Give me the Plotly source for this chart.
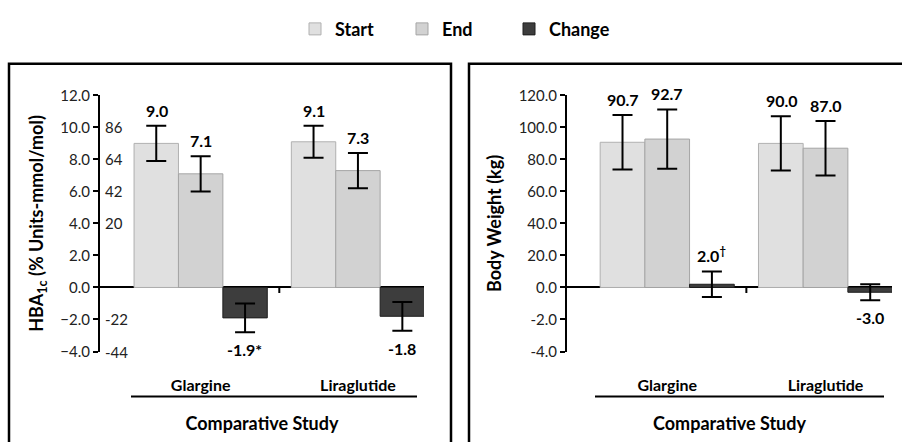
import plotly.graph_objects as go

# ---------------- data ----------------
categories = ["Glargine", "Liraglutide"]
series_names = ["Start", "End", "Change"]

hba_start = [9.0, 9.1]
hba_end = [7.1, 7.3]
hba_change = [-1.9, -1.8]
hba_start_err = [1.1, 1.0]
hba_end_err = [1.1, 1.1]
hba_change_err = [0.9, 0.9]
hba_labels_start = ["9.0", "9.1"]
hba_labels_end = ["7.1", "7.3"]
hba_labels_change = ["-1.9*", "-1.8"]

bw_start = [90.7, 90.0]
bw_end = [92.7, 87.0]
bw_change = [2.0, -3.0]
bw_start_err = [17.0, 17.0]
bw_end_err = [18.5, 17.0]
bw_change_err = [8.0, 5.0]
bw_labels_start = ["90.7", "90.0"]
bw_labels_end = ["92.7", "87.0"]
bw_labels_change = ["2.0<sup>†</sup>", "-3.0"]

hba_tick_vals = [-4, -2, 0, 2, 4, 6, 8, 10, 12]
mmol_tick_vals = [-4, -2, 4, 6, 8, 10]
mmol_tick_text = ["-44", "-22", "20", "42", "64", "86"]
bw_tick_vals = [-40, -20, 0, 20, 40, 60, 80, 100, 120]
bw_tick_text = ["-4.0", "-2.0", "0.0", "20.0", "40.0", "60.0", "80.0", "100.0", "120.0"]

# ---------------- style ----------------
FONT = "Lato"
colors = {"Start": "#e0e0e0", "End": "#d2d2d2", "Change": "#3d3d3d"}
edge = {"Start": "#b0b0b0", "End": "#a5a5a5", "Change": "#1e1e1e"}
W, H = 902, 442
TICK_SIZE = 15
LABEL_SIZE = 16
TITLE_SIZE = 18

def px_x(p):
    return p / W

def px_y(p):
    return 1 - p / H

fig = go.Figure()

panels = [
    dict(xa="x", ya="y", vals=[hba_start, hba_end, hba_change],
         errs=[hba_start_err, hba_end_err, hba_change_err],
         labels=[hba_labels_start, hba_labels_end, hba_labels_change], legend=True),
    dict(xa="x2", ya="y2", vals=[bw_start, bw_end, bw_change],
         errs=[bw_start_err, bw_end_err, bw_change_err],
         labels=[bw_labels_start, bw_labels_end, bw_labels_change], legend=False),
]

offsets = [-44, 0, 44]
annotations = []
for p in panels:
    for i, name in enumerate(series_names):
        fig.add_trace(go.Bar(
            x=categories, y=p["vals"][i], name=f"<b>{name}</b>",
            xaxis=p["xa"], yaxis=p["ya"],
            marker=dict(color=colors[name], line=dict(color=edge[name], width=1)),
            error_y=dict(type="data", array=p["errs"][i], color="black",
                         thickness=2, width=10),
            showlegend=p["legend"], legendgroup=name,
        ))
        for c, v, e, t in zip(categories, p["vals"][i], p["errs"][i], p["labels"][i]):
            pos = v >= 0
            annotations.append(dict(
                x=c, y=(v + e) if pos else (v - e), xref=p["xa"], yref=p["ya"],
                text=f"<b>{t}</b>", showarrow=False,
                xshift=offsets[i], yshift=4 if pos else -6,
                yanchor="bottom" if pos else "top",
                font=dict(family=FONT, size=LABEL_SIZE, color="black"),
            ))

# secondary (mmol/mol) labels just right of the HbA1c axis line
for v, t in zip(mmol_tick_vals, mmol_tick_text):
    annotations.append(dict(
        x=px_x(103), xref="paper", xanchor="left", y=v, yref="y", yanchor="middle",
        text=t, showarrow=False, font=dict(family=FONT, size=TICK_SIZE, color="#222"),
    ))

y_dom = [px_y(356), px_y(89)]

xcommon = dict(showline=False, ticks="", ticklabelstandoff=22, showgrid=False, zeroline=False,
               tickfont=dict(family=FONT, size=LABEL_SIZE, color="black"),
               tickvals=categories, ticktext=[f"<b>{c}</b>" for c in categories],
               title=dict(text="<b>Comparative Study</b>", standoff=24,
                          font=dict(family=FONT, size=TITLE_SIZE, color="black")))
ycommon = dict(showline=True, linecolor="black", linewidth=2,
               ticks="outside", ticklen=5, tickwidth=2, tickcolor="black",
               tickfont=dict(family=FONT, size=TICK_SIZE, color="#222"),
               showgrid=False, zeroline=True, zerolinecolor="black", zerolinewidth=2)

fig.update_layout(
    width=W, height=H,
    margin=dict(l=0, r=0, t=0, b=0),
    paper_bgcolor="white", plot_bgcolor="white",
    barmode="group", bargap=0.153, bargroupgap=0,
    font=dict(family=FONT, size=TICK_SIZE, color="#222"),
    legend=dict(orientation="h", x=0.505, xanchor="center", y=px_y(20), yanchor="middle",
                font=dict(family=FONT, size=18, color="black"), itemclick=False,
                traceorder="normal", itemwidth=30,
                entrywidth=62, entrywidthmode="pixels"),
    xaxis=dict(domain=[px_x(100), px_x(424)], range=[-0.64, 1.42], anchor="y", **xcommon),
    yaxis=dict(domain=y_dom, range=[-4, 12], anchor="x",
               tickvals=hba_tick_vals, tickformat=".1f",
               title=dict(text="<b>HBA<sub>1c</sub> (% Units-mmol/mol)</b>", standoff=12,
                          font=dict(family=FONT, size=TITLE_SIZE, color="black")),
               **ycommon),
    xaxis2=dict(domain=[px_x(567), px_x(892)], range=[-0.633, 1.42], anchor="y2", **xcommon),
    yaxis2=dict(domain=y_dom, range=[-40, 120], anchor="x2",
                tickvals=bw_tick_vals, ticktext=bw_tick_text,
                title=dict(text="<b>Body Weight (kg)</b>", standoff=12,
                           font=dict(family=FONT, size=TITLE_SIZE, color="black")),
                **ycommon),
    annotations=annotations,
)

shapes = [
    # panel frames
    dict(type="rect", xref="paper", yref="paper", x0=px_x(9), x1=px_x(451),
         y0=-0.05, y1=px_y(56), line=dict(color="black", width=2.5)),
    dict(type="rect", xref="paper", yref="paper", x0=px_x(469), x1=1.05,
         y0=-0.05, y1=px_y(56), line=dict(color="black", width=2.5)),
    # category underlines
    dict(type="line", xref="paper", yref="paper", x0=px_x(131), x1=px_x(417),
         y0=px_y(403), y1=px_y(403), line=dict(color="black", width=2)),
    dict(type="line", xref="paper", yref="paper", x0=px_x(595), x1=px_x(884),
         y0=px_y(403), y1=px_y(403), line=dict(color="black", width=2)),
    # category divider ticks on zero line
    dict(type="line", xref="x", yref="paper", x0=0.5, x1=0.5,
         y0=px_y(289), y1=px_y(295), line=dict(color="black", width=2)),
    dict(type="line", xref="x2", yref="paper", x0=0.5, x1=0.5,
         y0=px_y(289), y1=px_y(295), line=dict(color="black", width=2)),
]
fig.update_layout(shapes=shapes)

fig.write_html("out.html")
